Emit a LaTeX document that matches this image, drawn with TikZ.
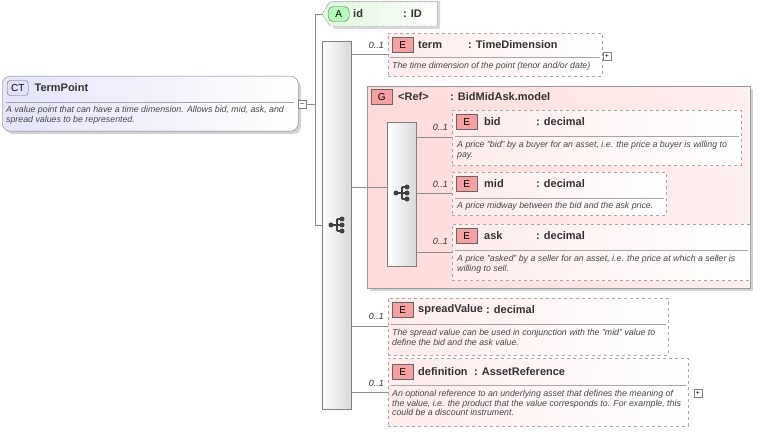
\documentclass[tikz,border=0pt]{standalone}
\usepackage{fontspec}
\setmainfont{Liberation Sans}
\usetikzlibrary{positioning,calc,shapes.misc}
\definecolor{elemfill}{RGB}{255,236,236}
\definecolor{elemdraw}{RGB}{170,170,170}
\definecolor{grpfill}{RGB}{255,218,218}
\definecolor{badgered}{RGB}{246,160,160}
\definecolor{ctfill}{RGB}{228,228,250}
\definecolor{attfill}{RGB}{222,248,222}
\definecolor{txtdark}{RGB}{50,50,50}
\tikzset{
  box/.style={draw=elemdraw, dashed, anchor=north west, inner sep=0pt,
    left color=elemfill, right color=white},
  seqbox/.style={draw=gray, anchor=north west, inner sep=0pt,
    left color=white, right color=gray!30, minimum width=29pt},
  badge/.style={draw=gray!80!black, anchor=west, fill=badgered, font=\fontsize{10}{10}\selectfont,
    minimum width=21pt, minimum height=15pt, inner sep=0pt},
  ttl/.style={anchor=west, font=\fontsize{11}{12}\selectfont\bfseries, text=txtdark, inner sep=0pt},
  desc/.style={anchor=north west, font=\fontsize{8.8}{9.6}\selectfont\itshape, text=txtdark!90,
    align=left, inner sep=0pt},
  mult/.style={anchor=east, font=\fontsize{9}{9}\selectfont\itshape, text=txtdark, inner sep=0pt},
  conn/.style={draw=gray!90, line width=0.6pt},
  sep/.style={draw=gray!70, line width=0.5pt},
  pm/.style={draw=gray, fill=white, minimum size=8pt, inner sep=0pt, font=\fontsize{7}{7}\selectfont}
}
\newcommand{\seqicon}[2]{%
  \fill[black!75] (#1-6,#2) circle (2.5pt);
  \draw[black!75, line width=1.2pt] (#1-6,#2) -- (#1,#2) (#1,#2-6) -- (#1,#2+6)
    (#1,#2-6) -- (#1+5,#2-6) (#1,#2) -- (#1+5,#2) (#1,#2+6) -- (#1+5,#2+6);
  \foreach \dy in {-6,0,6} \fill[black!75] (#1+5,#2+\dy) circle (2.5pt);
}
\begin{document}
\begin{tikzpicture}[x=1pt,y=-1pt]
  \useasboundingbox (0,0) rectangle (764,433);

  % Complex type
  \fill[gray!35, rounded corners=8pt] (5,79) rectangle (301,134);
  \node[draw=gray, rounded corners=8pt, anchor=north west, minimum width=296pt, minimum height=55pt,
    left color=ctfill, right color=white, inner sep=0pt] (tp) at (2,76) {};
  \node[badge, fill=ctfill!80!blue!40, rounded corners=3pt] (ctb) at (7,88) {CT};
  \node[ttl, right=6pt of ctb] {TermPoint};
  \draw[sep] (6,102) -- (294,102);
  \node[desc] at (6,106) {A value point that can have a time dimension. Allows bid, mid, ask, and\\spread values to be represented.};
  \node[pm] (tpm) at (302,104) {--};

  % Attribute id
  \fill[gray!30] (326,5) -- (334,1) -- (440,1) -- (440,29) -- (334,29) -- (326,17) -- cycle;
  \filldraw[draw=gray!70, dashed, left color=attfill, right color=white]
    (322,14) -- (330,2) -- (437,2) -- (437,26) -- (330,26) -- cycle;
  \coordinate (idw) at (322,14);
  \node[badge, fill=attfill!60!green!60, rounded corners=5pt] (ab) at (328,14) {A};
  \node[ttl] at (353,14) {id};
  \node[ttl] at (403,14) {: ID};

  % Outer sequence
  \node[seqbox, minimum height=368pt] (seq) at (322,41) {};
  \seqicon{337}{225}
  \coordinate (bus) at (315,104);
  \draw[conn] (tpm.east) -- (bus);
  \draw[conn] (315,14) -- (315,225);
  \draw[conn] (315,14) -- (idw);
  \draw[conn] (315,225) -- (seq.west |- 315,225);

  % term
  \node[box, minimum width=214pt, minimum height=43pt] (term) at (388,33) {};
  \node[badge] (tb) at (392,45) {E};
  \node[ttl] at (418,45) {term};
  \node[ttl] at (468,45) {: TimeDimension};
  \draw[sep] (390,57) -- (600,57);
  \node[desc] at (392,62) {The time dimension of the point (tenor and/or date)};
  \node[pm] at (607,56) {+};
  \node[mult] at (384,45) {0..1};
  \draw[conn] (seq.east |- term.west) -- (term.west);

  % group
  \fill[gray!35] (370,89) rectangle (753,291);
  \node[draw=gray!80, anchor=north west, minimum width=383pt, minimum height=202pt, inner sep=0pt,
    left color=grpfill, right color=grpfill!40] (grp) at (367,86) {};
  \node[badge] at (371,97) {G};
  \node[ttl] at (398,97) {<Ref>};
  \node[ttl] at (450,97) {: BidMidAsk.model};
  \draw[conn] (seq.east |- grp.west) -- (grp.west);

  \node[seqbox, minimum height=144pt] (iseq) at (387,122) {};
  \seqicon{402}{193}
  \draw[conn] (grp.west) -- (iseq.west |- grp.west);

  % bid
  \node[box, minimum width=289pt, minimum height=55pt] (bid) at (452,110) {};
  \node[badge] at (456,122) {E};
  \node[ttl] at (484,122) {bid};
  \node[ttl] at (536,122) {: decimal};
  \draw[sep] (455,136) -- (739,136);
  \node[desc] at (457,141) {A price "bid" by a buyer for an asset, i.e. the price a buyer is willing to\\pay.};
  \node[mult] at (448,127) {0..1};
  \draw[conn] (iseq.east |- bid.west) -- (bid.west);

  % mid
  \node[box, minimum width=214pt, minimum height=43pt] (mid) at (452,172) {};
  \node[badge] at (456,184) {E};
  \node[ttl] at (484,184) {mid};
  \node[ttl] at (536,184) {: decimal};
  \draw[sep] (455,198) -- (664,198);
  \node[desc] at (457,202) {A price midway between the bid and the ask price.};
  \node[mult] at (448,184) {0..1};
  \draw[conn] (iseq.east |- mid.west) -- (mid.west);

  % ask
  \node[box, minimum width=298pt, minimum height=56pt] (ask) at (452,224) {};
  \node[badge] at (456,236) {E};
  \node[ttl] at (484,236) {ask};
  \node[ttl] at (536,236) {: decimal};
  \draw[sep] (455,250) -- (748,250);
  \node[desc] at (457,255) {A price "asked" by a seller for an asset, i.e. the price at which a seller is\\willing to sell.};
  \node[mult] at (448,241) {0..1};
  \draw[conn] (iseq.east |- ask.west) -- (ask.west);

  % spreadValue
  \node[box, minimum width=280pt, minimum height=57pt] (spr) at (388,298) {};
  \node[badge] at (392,310) {E};
  \node[ttl] at (418,310) {spreadValue};
  \node[ttl] at (486,310) {: decimal};
  \draw[sep] (391,324) -- (666,324);
  \node[desc] at (392,329) {The spread value can be used in conjunction with the "mid" value to\\define the bid and the ask value.};
  \node[mult] at (384,316) {0..1};
  \draw[conn] (seq.east |- spr.west) -- (spr.west);

  % definition
  \node[box, minimum width=300pt, minimum height=68pt] (def) at (388,358) {};
  \node[badge] at (392,372) {E};
  \node[ttl] at (418,372) {definition};
  \node[ttl] at (474,372) {: AssetReference};
  \draw[sep] (391,385) -- (686,385);
  \node[desc] at (392,390) {An optional reference to an underlying asset that defines the meaning of\\the value, i.e. the product that the value corresponds to. For example, this\\could be a discount instrument.};
  \node[pm] at (698,393) {+};
  \node[mult] at (384,383) {0..1};
  \draw[conn] (seq.east |- def.west) -- (def.west);
\end{tikzpicture}
\end{document}
